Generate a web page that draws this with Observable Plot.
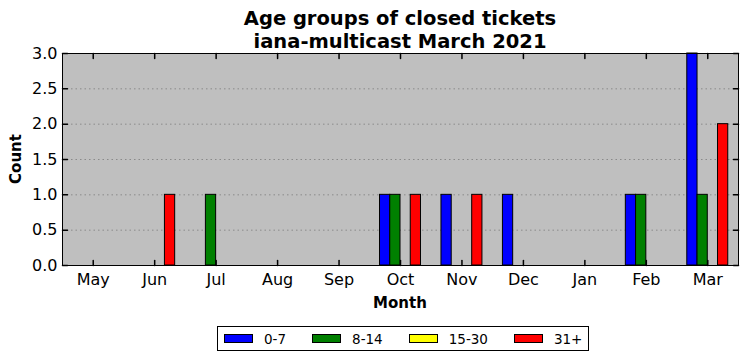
<!DOCTYPE html>
<html>
<head>
<meta charset="utf-8">
<script src="https://cdn.jsdelivr.net/npm/d3@7"></script>
<script src="https://cdn.jsdelivr.net/npm/@observablehq/plot@0.6"></script>
<style>
  body { margin: 0; background: #fff; font-family: "DejaVu Sans", sans-serif; }
  #wrap { position: relative; width: 747px; height: 361px; }
  #title { position: absolute; left: 62px; width: 676px; top: 8px; text-align: center;
           font-weight: bold; font-size: 19.5px; line-height: 22.5px; }
  .axlabel { position: absolute; font-weight: bold; font-size: 15px; white-space: nowrap; }
  #xlabel { left: 400px; top: 303px; transform: translate(-50%, -50%); }
  #ylabel { left: 16px; top: 159px; transform: translate(-50%, -50%) rotate(-90deg); }
  #legend { position: absolute; left: 217px; top: 326px; height: 23px; border: 1px solid #000;
            display: flex; align-items: center; padding: 0 6px; font-size: 13.5px; background: #fff; }
  .item { display: flex; align-items: center; margin-right: 26px; }
  .item:last-child { margin-right: 0; }
  .sw { width: 27px; height: 7px; border: 1px solid #000; margin-right: 11px; }
</style>
</head>
<body>
<div id="wrap">
  <div id="chart"></div>
  <div id="title">Age groups of closed tickets<br>iana-multicast March 2021</div>
  <div class="axlabel" id="xlabel">Month</div>
  <div class="axlabel" id="ylabel">Count</div>
  <div id="legend"></div>
</div>
<script>
const months = ["May","Jun","Jul","Aug","Sep","Oct","Nov","Dec","Jan","Feb","Mar"];
const groups = ["0-7","8-14","15-30","31+"];
const groupColors = ["#0000ff","#008000","#ffff00","#ff0000"];
const age0_7   = [0,0,0,0,0,1,1,1,0,1,3];
const age8_14  = [0,0,1,0,0,1,0,0,0,1,1];
const age15_30 = [0,0,0,0,0,0,0,0,0,0,0];
const age31    = [0,1,0,0,0,1,1,0,0,0,2];
const yTicks = [0,0.5,1,1.5,2,2.5,3];

const series = [age0_7, age8_14, age15_30, age31];
const rows = [];
months.forEach((m, i) => {
  groups.forEach((g, k) => {
    rows.push({month: m, i, k, group: g, count: series[k][i]});
  });
});
const monthIdx = months.map((m, i) => i);
const tickShape = { draw(ctx, l) { ctx.moveTo(0, 0); ctx.lineTo(0, -l); } };

const chart = Plot.plot({
  width: 747, height: 361,
  marginTop: 53, marginRight: 9, marginBottom: 96, marginLeft: 62,
  style: { fontFamily: "DejaVu Sans", fontSize: "16px", color: "black", background: "transparent", overflow: "visible" },
  x: { type: "linear", domain: [-0.5, months.length - 0.5] },
  y: { domain: [0, 3] },
  color: { domain: groups, range: groupColors },
  marks: [
    Plot.frame({ fill: "#bfbfbf" }),
    Plot.gridY(yTicks.slice(1, -1), { stroke: "#000", strokeOpacity: 0.4, strokeDasharray: "1.5,3", strokeWidth: 0.7 }),
    Plot.rect(rows, {
      x1: d => d.i + (d.k - 2) / 6,
      x2: d => d.i + (d.k - 1) / 6,
      y1: 0,
      y2: "count",
      fill: "group",
      stroke: "#000",
      strokeWidth: 1
    }),
    Plot.axisX(monthIdx, { tickFormat: i => months[i], tickSize: 0, tickPadding: 8, label: null, fontSize: 16 }),
    Plot.axisY(yTicks, { tickFormat: d => d.toFixed(1), tickSize: 0, tickPadding: 5, label: null, fontSize: 16 }),
    Plot.vector(monthIdx, { x: d => d, frameAnchor: "bottom", length: 5, rotate: 0, anchor: "start", shape: tickShape, stroke: "#000" }),
    Plot.vector(monthIdx, { x: d => d, frameAnchor: "top", length: 5, rotate: 180, anchor: "start", shape: tickShape, stroke: "#000" }),
    Plot.vector(yTicks, { y: d => d, frameAnchor: "left", length: 5, rotate: 90, anchor: "start", shape: tickShape, stroke: "#000" }),
    Plot.vector(yTicks, { y: d => d, frameAnchor: "right", length: 5, rotate: -90, anchor: "start", shape: tickShape, stroke: "#000" }),
    Plot.frame({ stroke: "#000", strokeWidth: 1 })
  ]
});
document.getElementById("chart").appendChild(chart);

const legend = document.getElementById("legend");
groups.forEach((g, k) => {
  const item = document.createElement("div");
  item.className = "item";
  const sw = document.createElement("div");
  sw.className = "sw";
  sw.style.background = groupColors[k];
  const label = document.createElement("span");
  label.textContent = g;
  item.appendChild(sw);
  item.appendChild(label);
  legend.appendChild(item);
});
</script>
</body>
</html>
